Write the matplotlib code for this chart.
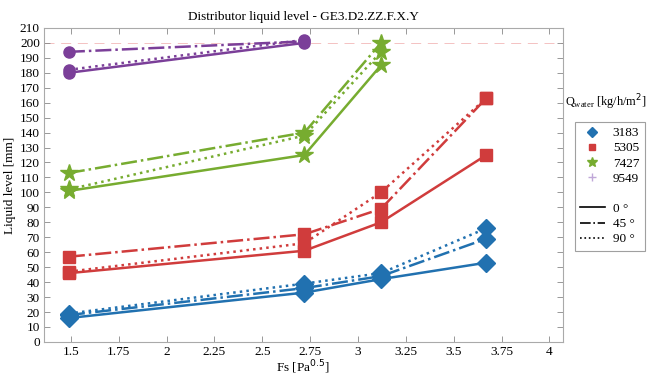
import matplotlib
matplotlib.use('Agg')
import matplotlib.pyplot as plt
from matplotlib.lines import Line2D
import numpy as np

# Fs values and liquid levels per water load and orientation
fs = [1.49, 2.72, 3.12, 3.67]
loads = ['3183', '5305', '7427', '9549']
angles = ['0 °', '45 °', '90 °']

level_3183 = {'0': [16, 33, 42, 53], '45': [18, 36, 44, 69], '90': [19, 39, 46, 76]}
level_5305 = {'0': [46, 61, 80, 125], '45': [57, 72, 89, 163], '90': [47, 66, 100, 163]}
level_7427 = {'0': [101, 125, 185], '45': [113, 140, 200], '90': [102, 138, 194]}
level_9549 = {'0': [180, 200], '45': [194, 201], '90': [182, 202]}

levels = [level_3183, level_5305, level_7427, level_9549]
colors = ['#2171b0', '#d03c3c', '#77ac30', '#7b3f99']
markers = ['D', 's', '*', 'o']
msizes = [9, 9, 13, 8]
styles = {'0': '-', '45': '-.', '90': ':'}

plt.rcParams['font.family'] = ['Liberation Serif', 'DejaVu Serif']

fig = plt.figure(figsize=(6.47, 3.77), dpi=100)
ax = fig.add_axes([0.068, 0.093, 0.802, 0.833])

ax.axhline(200, color='#f2b8b8', lw=0.6, ls=(0, (12, 8)), zorder=0)

for lev, c, m, ms in zip(levels, colors, markers, msizes):
    for key, ls in styles.items():
        y = lev[key]
        ax.plot(fs[:len(y)], y, ls=ls, color=c, lw=1.8, marker=m, ms=ms,
                markeredgecolor=c)

ax.set_xlim(1.36, 4.07)
ax.set_ylim(0, 210)
ax.set_xticks(np.arange(1.5, 4.01, 0.25))
ax.set_xticklabels(['1.5', '1.75', '2', '2.25', '2.5', '2.75', '3', '3.25', '3.5', '3.75', '4'])
ax.set_yticks(np.arange(0, 211, 10))
ax.tick_params(direction='in', top=True, right=True, length=4, width=0.6,
               color='#888888', labelsize=9.5, pad=3)
for s in ax.spines.values():
    s.set_color('#aaaaaa')
    s.set_linewidth(0.8)

ax.set_title('Distributor liquid level - GE3.D2.ZZ.F.X.Y', fontsize=9.5, pad=6)
ax.set_ylabel('Liquid level [mm]', fontsize=9.5, labelpad=3)
ax.set_xlabel('Fs [Pa$^{0.5}$]', fontsize=9.5, labelpad=0)

# legend: colour/marker for water load, line style for angle
handles = [Line2D([], [], ls='none', marker=m, color=c, ms=ms * 0.55)
           for c, m, ms in zip(colors[:3], markers[:3], msizes[:3])]
handles.append(Line2D([], [], ls='none', marker='+', color='#c0a8d8', ms=6))
handles.append(Line2D([], [], ls='none'))
handles += [Line2D([], [], ls=styles[k], color='black', lw=1.2) for k in ['0', '45', '90']]
labels = loads + [''] + angles

leg = fig.legend(handles, labels, loc='upper left', bbox_to_anchor=(0.888, 0.677),
                 fontsize=9.5, frameon=True, fancybox=False, handlelength=1.9,
                 handletextpad=0.6, borderpad=0.4, labelspacing=0.22,
                 borderaxespad=0)
leg.get_frame().set_edgecolor('#888888')
leg.get_frame().set_linewidth(0.8)
fig.text(0.873, 0.729, 'Q$_{\\mathregular{water}}$ [kg/h/m$^2$]', fontsize=8.8,
         ha='left', va='center')

plt.savefig('out.png', dpi=100)
